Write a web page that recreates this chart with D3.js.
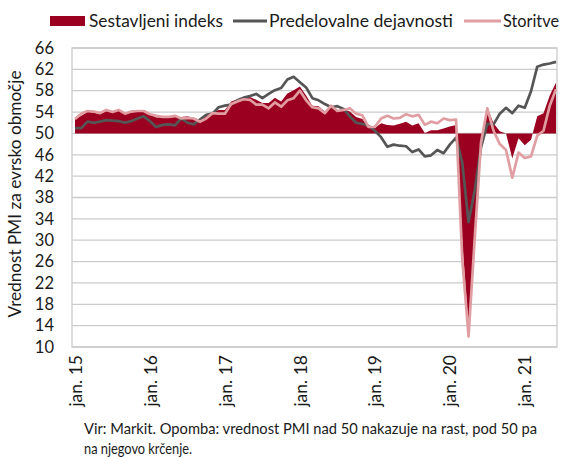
<!DOCTYPE html>
<html>
<head>
<meta charset="utf-8">
<title>PMI evrsko območje</title>
<script src="https://cdn.jsdelivr.net/npm/d3@7/dist/d3.min.js"></script>
<style>
  body { margin: 0; background: #fff; }
  svg { font-family: Lato, "Open Sans", sans-serif; fill: #1a1a1a; }
</style>
</head>
<body>
<svg id="chart" width="563" height="457"></svg>
<script>
// months jan. 2015 - jun. 2021
var N_MONTHS = 78;

var composite = [
  52.6, 53.3, 54.0, 53.9, 53.6, 54.2, 53.9, 54.3, 53.6, 53.9, 54.2, 54.3,
  53.6, 53.0, 53.1, 53.0, 53.1, 53.1, 53.2, 52.9, 52.6, 53.3, 53.9, 54.4,
  54.4, 56.0, 56.4, 56.8, 56.8, 56.3, 55.7, 55.7, 56.7, 56.0, 57.5, 58.1,
  58.8, 57.1, 55.2, 55.1, 54.1, 54.9, 54.3, 54.5, 54.1, 53.1, 52.7, 51.1,
  51.0, 51.9, 51.6, 51.5, 51.8, 52.2, 51.5, 51.9, 50.1, 50.6, 50.6, 50.9,
  51.3, 51.6, 29.7, 13.6, 31.9, 48.5, 54.9, 51.9, 50.4, 50.0, 45.3, 49.1,
  47.8, 48.8, 53.2, 53.8, 57.1, 59.5
];
var manufacturing = [
  51.0, 51.0, 52.2, 52.0, 52.2, 52.5, 52.4, 52.3, 52.0, 52.3, 52.8, 53.2,
  52.3, 51.2, 51.6, 51.7, 51.5, 52.8, 52.0, 51.7, 52.6, 53.5, 53.7, 54.9,
  55.2, 55.4, 56.2, 56.7, 57.0, 57.4, 56.6, 57.4, 58.1, 58.5, 60.1, 60.6,
  59.6, 58.6, 56.6, 56.2, 55.5, 54.9, 55.1, 54.6, 53.2, 52.0, 51.8, 51.4,
  50.5, 49.3, 47.5, 47.9, 47.7, 47.6, 46.5, 47.0, 45.7, 45.9, 46.9, 46.3,
  47.9, 49.2, 44.5, 33.4, 39.4, 47.4, 51.8, 51.7, 53.7, 54.8, 53.8, 55.2,
  54.8, 57.9, 62.5, 62.9, 63.1, 63.4
];
var services = [
  52.7, 53.7, 54.2, 54.1, 53.8, 54.4, 54.0, 54.4, 53.7, 54.1, 54.2, 54.2,
  53.6, 53.3, 53.1, 53.1, 53.3, 52.8, 52.9, 52.8, 52.2, 52.8, 53.8, 53.7,
  53.7, 55.5, 56.0, 56.4, 56.3, 55.4, 55.4, 54.7, 55.8, 55.0, 56.2, 56.6,
  58.0, 56.2, 54.9, 54.7, 53.8, 55.2, 54.2, 54.4, 54.7, 53.7, 53.4, 51.2,
  51.2, 52.8, 53.3, 52.8, 52.9, 53.6, 53.2, 53.5, 51.6, 52.2, 51.9, 52.8,
  52.5, 52.6, 26.4, 12.0, 30.5, 48.3, 54.7, 50.5, 48.0, 46.9, 41.7, 46.4,
  45.4, 45.7, 49.6, 50.5, 55.2, 58.3
];
var yTicks = [10, 14, 18, 22, 26, 30, 34, 38, 42, 46, 50, 54, 58, 62, 66];
var xTickLabels = ['jan. 15', 'jan. 16', 'jan. 17', 'jan. 18', 'jan. 19', 'jan. 20', 'jan. 21'];
var legendNames = ['Sestavljeni indeks', 'Predelovalne dejavnosti', 'Storitve'];

var RED = '#9b0020', GREY = '#555555', PINK = '#e09ea2';

var svg = d3.select('#chart');
var frame = { left: 72, right: 557, top: 48, bottom: 347 };

var x = d3.scaleLinear().domain([0, N_MONTHS - 1]).range([75, 556]);
var y = d3.scaleLinear().domain([10, 66]).range([frame.bottom, frame.top]);

// grid
svg.append('g').selectAll('line').data(yTicks).join('line')
  .attr('x1', frame.left).attr('x2', frame.right)
  .attr('y1', d => y(d)).attr('y2', d => y(d))
  .attr('stroke', '#cbcbcb').attr('stroke-width', 1.3);
svg.append('rect')
  .attr('x', frame.left).attr('y', frame.top)
  .attr('width', frame.right - frame.left).attr('height', frame.bottom - frame.top)
  .attr('fill', 'none').attr('stroke', '#cbcbcb').attr('stroke-width', 1.3);

// y axis labels
var yAxis = d3.axisLeft(y).tickValues(yTicks).tickSize(0).tickPadding(0);
svg.append('g').attr('transform', 'translate(54,0)').call(yAxis)
  .call(g => g.select('.domain').remove())
  .selectAll('text').attr('font-size', 16.5).attr('fill', '#1a1a1a')
  .attr('font-family', 'Lato, "Open Sans", sans-serif');

// x axis labels every 12 months
var xAxis = d3.axisBottom(x).tickValues(d3.range(0, N_MONTHS, 12))
  .tickSize(0).tickFormat((d, i) => xTickLabels[i]);
svg.append('g').attr('transform', 'translate(0,355)').call(xAxis)
  .call(g => g.select('.domain').remove())
  .selectAll('text')
  .attr('font-size', 17.5).attr('fill', '#1a1a1a')
  .attr('font-family', 'Lato, "Open Sans", sans-serif')
  .attr('text-anchor', 'end')
  .attr('transform', 'rotate(-90)')
  .attr('x', 0).attr('y', 0).attr('dy', '0.35em');

// composite area from 50
var area = d3.area().x((d, i) => x(i)).y0(y(50)).y1(d => y(d));
svg.append('path').datum(composite).attr('d', area).attr('fill', RED);

var line = d3.line().x((d, i) => x(i)).y(d => y(d));
svg.append('path').datum(manufacturing).attr('d', line)
  .attr('fill', 'none').attr('stroke', GREY).attr('stroke-width', 2.7)
  .attr('stroke-linejoin', 'round');
svg.append('path').datum(services).attr('d', line)
  .attr('fill', 'none').attr('stroke', PINK).attr('stroke-width', 2.7)
  .attr('stroke-linejoin', 'round');

// y title
svg.append('text')
  .attr('transform', 'translate(15,194) rotate(-90)')
  .attr('text-anchor', 'middle').attr('dy', '0.35em')
  .attr('font-size', 17).attr('textLength', 247).attr('lengthAdjust', 'spacingAndGlyphs')
  .text('Vrednost PMI za evrsko območje');

// legend
var lg = svg.append('g').attr('font-size', 17.5);
lg.append('rect').attr('x', 50).attr('y', 16).attr('width', 35).attr('height', 10).attr('fill', RED);
lg.append('text').attr('x', 89).attr('y', 27)
  .attr('textLength', 134).attr('lengthAdjust', 'spacingAndGlyphs').text(legendNames[0]);
lg.append('line').attr('x1', 233).attr('x2', 267).attr('y1', 21).attr('y2', 21)
  .attr('stroke', GREY).attr('stroke-width', 3);
lg.append('text').attr('x', 269).attr('y', 27)
  .attr('textLength', 184).attr('lengthAdjust', 'spacingAndGlyphs').text(legendNames[1]);
lg.append('line').attr('x1', 464).attr('x2', 501).attr('y1', 21).attr('y2', 21)
  .attr('stroke', PINK).attr('stroke-width', 3);
lg.append('text').attr('x', 503).attr('y', 27)
  .attr('textLength', 56).attr('lengthAdjust', 'spacingAndGlyphs').text(legendNames[2]);

// footnote
var fn = svg.append('g').attr('font-size', 15.3);
fn.append('text').attr('x', 84).attr('y', 434)
  .attr('textLength', 453).attr('lengthAdjust', 'spacingAndGlyphs')
  .text('Vir: Markit. Opomba: vrednost PMI nad 50 nakazuje na rast, pod 50 pa');
fn.append('text').attr('x', 84).attr('y', 454)
  .attr('textLength', 108).attr('lengthAdjust', 'spacingAndGlyphs')
  .text('na njegovo krčenje.');
</script>
</body>
</html>
